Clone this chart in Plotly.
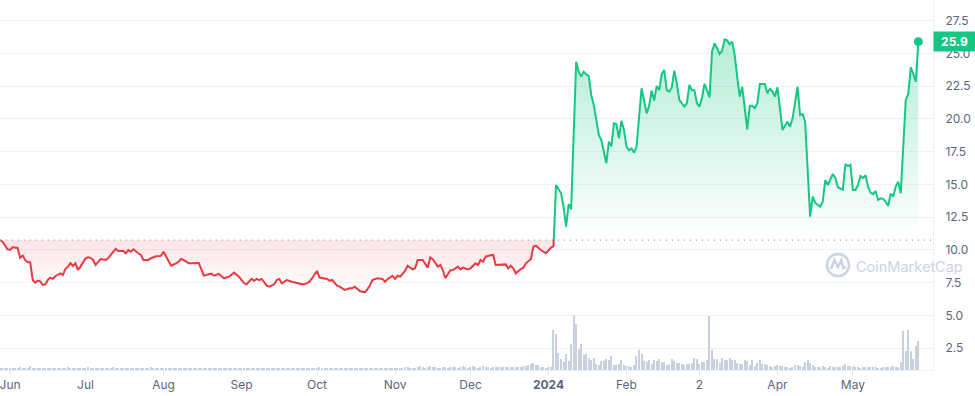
import numpy as np
import pandas as pd
import plotly.graph_objects as go

# ---------------- data ----------------
start_date = "2023-05-28"

price_day = [0,1,3,4,5,6,7,8,9,10,11,12,13,14,15,16,17,18,19,20,21,22,24,25,26,27,28,29,30,31,32,34,35,36,37,38,39,40,42,43,44,46,47,49,50,51,52,53,55,56,57,59,60,62,64,65,67,68,70,71,72,73,75,77,79,81,82,84,85,87,89,91,93,95,97,98,100,101,102,103,104,106,107,109,110,111,112,114,116,118,120,121,123,124,126,127,129,130,131,132,134,135,137,139,140,141,143,145,146,147,148,150,152,153,154,156,157,158,159,161,162,164,165,166,168,170,171,172,174,175,176,177,179,180,182,183,184,186,187,189,190,191,192,193,195,196,197,199,201,202,203,204,205,207,208,209,211,212,213,215,216,217,219,220,
             221,223,224,225,226,227,228,229,230,231,232,233,234,235,236,237,238,239,241,242,243,244,245,246,247,248,249,250,251,252,253,255,256,257,258,259,260,261,262,263,264,265,266,267,268,269,270,272,273,274,275,276,277,278,279,280,281,282,283,284,285,286,287,288,289,290,291,292,293,294,295,297,298,299,300,301,302,304,305,306,307,308,309,310,311,313,314,315,317,318,319,320,321,322,323,324,326,327,328,329,331,332,333,335,336,337,338,339,340,341,342,343,344,345,346,347,348,349,350,351,352,353,354,355,356,357,358,359,360,361,362,363,364,365]

price = [10.76,10.63,10.05,10.0,10.2,10.15,10.15,9.41,9.57,9.24,9.06,9.06,7.71,7.5,7.66,7.6,7.33,7.37,7.71,7.89,7.8,8.0,8.22,8.09,8.55,8.73,9.0,8.78,8.98,8.47,8.73,9.37,9.44,9.4,9.24,8.85,9.1,9.31,9.24,9.37,9.62,10.08,9.92,9.92,9.75,10.0,9.87,10.05,9.75,9.62,9.24,9.24,9.37,9.52,9.55,9.87,9.16,8.8,8.98,9.1,9.31,9.24,8.98,9.0,9.0,8.04,8.09,8.19,8.04,8.17,7.84,7.96,8.27,7.96,7.46,7.38,7.79,7.65,7.79,7.7,7.79,7.28,7.2,7.38,7.71,7.79,7.46,7.71,7.58,7.46,7.38,7.38,7.58,7.84,8.4,7.9,7.79,7.79,7.65,7.71,7.28,7.2,6.95,7.07,7.07,7.2,6.87,6.77,7.0,7.28,7.71,7.84,7.79,7.58,7.77,8.02,7.79,8.04,7.96,8.4,8.8,8.52,8.6,9.24,9.24,8.65,9.44,9.3,8.73,8.85,8.47,7.84,8.45,8.47,8.73,8.52,8.65,8.52,8.6,8.98,8.85,9.24,9.1,9.49,9.6,9.62,8.85,8.9,8.9,8.6,8.8,8.6,8.22,8.55,8.65,8.98,9.3,10.25,10.33,10.0,9.87,9.75,10.18,10.3,
         14.96,14.33,13.3,11.78,13.51,13.1,18.4,24.37,23.61,23.23,23.61,23.4,23.28,21.83,21.07,19.8,18.78,18.4,16.62,18.27,17.9,19.67,19.6,18.53,19.87,19.16,17.89,17.6,17.75,17.43,17.89,22.34,21.45,20.43,21.0,22.16,21.4,22.52,22.2,23.43,23.74,22.2,22.08,22.4,23.69,22.72,21.45,20.94,21.2,22.6,22.2,22.2,21.2,20.94,21.6,22.67,22.2,21.65,25.14,25.78,25.4,24.96,25.2,26.08,26.0,25.7,25.9,24.89,23.23,21.7,22.45,19.2,21.0,21.0,20.82,21.2,22.67,22.67,21.96,22.3,22.1,21.7,22.42,20.82,19.16,19.8,19.41,20.05,22.46,20.3,20.37,19.8,15.6,12.54,14.07,13.61,13.3,13.69,15.34,14.96,15.8,15.5,14.79,14.6,16.56,16.4,16.5,14.58,14.58,14.96,15.65,15.5,15.7,14.83,14.38,14.26,14.5,13.82,13.95,13.9,13.69,13.36,14.3,14.07,14.83,15.22,14.33,17.89,21.45,21.9,23.94,23.43,22.85,25.9]

# daily volume (M USD), day 0 .. 365
volume = [4,3,4,3,5,4,3,4,6,4, 5,4,8,5,4,3,4,5,4,4, 3,4,5,4,3,4,5,6,4,4, 5,4,4,3,5,6,4,4,3,4,
          4,5,4,3,4,6,5,4,4,5, 3,4,4,5,3,4,5,4,3,4, 6,4,3,4,5,4,3,3,4,5, 4,3,4,3,3,4,5,3,3,4,
          5,3,4,3,3,4,3,3,4,3, 3,4,3,3,4,3,3,4,3,3, 4,3,3,4,5,3,3,4,3,3, 4,3,3,3,4,3,3,4,3,3,
          3,4,3,4,5,3,4,6,4,3, 3,4,3,3,4,3,3,4,3,4, 3,4,4,3,3,4,5,4,4,3, 4,4,5,4,4,3,4,5,4,4,
          5,6,7,5,4,5,7,8,6,5, 6,8,7,6,5,5,7,6,5,6, 7,6,5,6,8,6,5,7,8,6, 5,6,8,7,6,5,6,7,6,6,
          6,6,6,6,6,7,7,7,9,9, 10,12,15,10,10,7,6,5,6,6, 80,72,34,22,17,32,18,53,110,92,
          43,53,30,32,25,21,25,13,11,18, 18,23,21,29,11,11,13,20,11,8, 8,7,10,28,40,32,18,16,20,12,
          20,18,22,17,16,11,12,23,18,15, 15,12,11,12,12,15,25,22,12,16, 16,20,108,40,22,22,15,25,20,20,
          25,20,20,15,12,12,20,18,10,20, 8,15,20,12,12,10,8,7,9,10, 8,8,6,6,5,6,11,10,9,6,
          16,20,15,10,6,6,6,8,6,5, 8,7,6,6,6,9,12,9,8,8, 6,6,5,6,6,6,6,6,6,5,
          5,6,6,6,6,8,6,6,16,79, 39,80,39,22,48,59]

month_ticks = ["2023-06-01","2023-07-01","2023-08-01","2023-09-01","2023-10-01","2023-11-01",
               "2023-12-01","2024-01-01","2024-02-01","2024-03-01","2024-04-01","2024-05-01"]
month_labels = ["Jun","Jul","Aug","Sep","Oct","Nov","Dec","<b>2024</b>","Feb","2","Apr","May"]
price_ticks = [2.5,5.0,7.5,10.0,12.5,15.0,17.5,20.0,22.5,25.0,27.5]

GREEN = "#16c784"
RED = "#ea3943"
GRID = "#eff2f5"
TXT = "#58667e"
WM = "#cdd3df"

# ---------------- processing ----------------
t0 = pd.Timestamp(start_date)
days = np.array(price_day, dtype=float)
p = np.array(price, dtype=float)
base = p[0]

xs, ys = [days[0]], [p[0]]
cross_idx = None
for i in range(1, len(p)):
    a, b = p[i-1] - base, p[i] - base
    if a * b < 0:
        t = a / (a - b)
        xs.append(days[i-1] + t * (days[i] - days[i-1]))
        ys.append(base)
        cross_idx = len(xs) - 1
    xs.append(days[i]); ys.append(p[i])
xs = np.array(xs); ys = np.array(ys)
dates = t0 + pd.to_timedelta(xs, unit="D")

red_x, red_y = dates[:cross_idx+1], ys[:cross_idx+1]
grn_x, grn_y = dates[cross_idx:], ys[cross_idx:]

vol_dates = t0 + pd.to_timedelta(np.arange(len(volume)), unit="D")

fig = go.Figure()

# volume bars
fig.add_trace(go.Bar(x=vol_dates, y=volume, yaxis="y2", marker_color="#c9d1e1",
                     marker_line_width=0, width=0.45*86400000, hoverinfo="skip",
                     showlegend=False))

# red segment
fig.add_trace(go.Scatter(x=red_x, y=[base]*len(red_x), mode="lines", line=dict(width=0),
                         hoverinfo="skip", showlegend=False))
fig.add_trace(go.Scatter(x=red_x, y=red_y, mode="lines", line=dict(color=RED, width=2),
                         fill="tonexty",
                         fillgradient=dict(type="vertical", start=6.5, stop=base,
                                           colorscale=[[0, "rgba(234,57,67,0.0)"],
                                                       [1, "rgba(234,57,67,0.13)"]]),
                         hoverinfo="skip", showlegend=False))
# green segment
fig.add_trace(go.Scatter(x=grn_x, y=[base]*len(grn_x), mode="lines", line=dict(width=0),
                         hoverinfo="skip", showlegend=False))
fig.add_trace(go.Scatter(x=grn_x, y=grn_y, mode="lines", line=dict(color=GREEN, width=2),
                         fill="tonexty",
                         fillgradient=dict(type="vertical", start=base, stop=26.5,
                                           colorscale=[[0, "rgba(22,199,132,0.0)"],
                                                       [1, "rgba(22,199,132,0.33)"]]),
                         hoverinfo="skip", showlegend=False))
# last point marker
fig.add_trace(go.Scatter(x=[dates[-1]], y=[ys[-1]], mode="markers",
                         marker=dict(color=GREEN, size=9), hoverinfo="skip", showlegend=False))

# baseline dotted
fig.add_shape(type="line", xref="paper", x0=0, x1=1, yref="y", y0=base, y1=base,
              line=dict(color="#9aa3b5", width=1.2, dash="1px,5px"), layer="above")

# last price label
fig.add_annotation(xref="paper", x=1, xanchor="left", yref="y", y=ys[-1],
                   text=f"<b>{ys[-1]:.1f}</b>", showarrow=False,
                   font=dict(color="white", size=12, family="Inter"),
                   bgcolor=GREEN, width=37, height=15, borderpad=2)

# watermark
fig.add_annotation(xref="paper", yref="paper", x=854/933, y=(370-266)/370, xanchor="left",
                   yanchor="middle", text="CoinMarketCap", showarrow=False,
                   font=dict(color=WM, size=14.5, family="Inter"))
fig.add_shape(type="circle", xref="paper", yref="paper",
              x0=827/933, x1=849/933, y0=(370-276)/370, y1=(370-254)/370,
              line=dict(color=WM, width=2.5))
fig.add_shape(type="path", xref="paper", yref="paper",
              path=(f"M {831/933} {(370-269)/370} L {834.5/933} {(370-260)/370} "
                    f"L {838/933} {(370-267)/370} L {841.5/933} {(370-260)/370} "
                    f"L {843/933} {(370-268)/370} L {846/933} {(370-267)/370}"),
              line=dict(color=WM, width=2.5))

x_end = t0 + pd.Timedelta(days=933/2.516)
fig.update_layout(
    width=975, height=396,
    margin=dict(l=0, r=42, t=0, b=26),
    paper_bgcolor="white", plot_bgcolor="white",
    font=dict(family="Inter", color=TXT, size=12),
    hovermode=False, bargap=0,
    xaxis=dict(range=[t0, x_end], tickvals=month_ticks, ticktext=month_labels,
               showgrid=False, zeroline=False, showline=True, linecolor=GRID,
               ticks="outside", ticklen=4, tickcolor="#e3e7ee",
               ticklabeloverflow="allow",
               tickfont=dict(size=12, color=TXT)),
    yaxis=dict(side="right", range=[0.84, 29.08], tickvals=price_ticks,
               ticktext=[f"{v:.1f}" for v in price_ticks], showgrid=True, gridcolor=GRID,
               zeroline=False, showline=True, linecolor=GRID, ticks="",
               ticklabelstandoff=9, tickfont=dict(size=12, color=TXT)),
    yaxis2=dict(overlaying="y", range=[0, 740], visible=False, showgrid=False),
)

fig.write_html("out.html")
